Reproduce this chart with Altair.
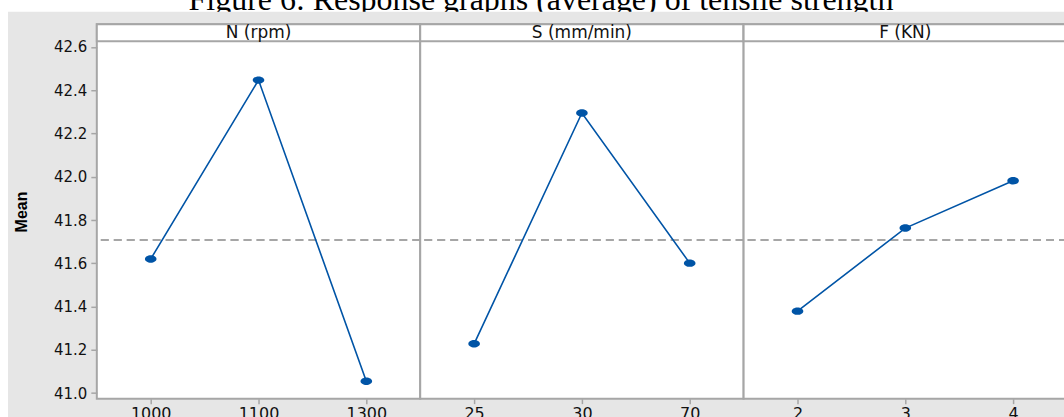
import altair as alt
import pandas as pd

# ---- values -------------------------------------------------------------
CAPTION = "Figure 6: Response graphs (average) of tensile strength"
FACTORS = ["N (rpm)", "S (mm/min)", "F (KN)"]

N_LEVELS = ["1000", "1100", "1300"]
N_MEANS = [41.620, 42.447, 41.055]
S_LEVELS = ["25", "30", "70"]
S_MEANS = [41.228, 42.295, 41.601]
F_LEVELS = ["2", "3", "4"]
F_MEANS = [41.379, 41.763, 41.982]

GRAND_MEAN = 41.708
Y_TICKS = [41.0, 41.2, 41.4, 41.6, 41.8, 42.0, 42.2, 42.4, 42.6]

# ---- geometry / style -----------------------------------------------------
PANEL_W = 324
PLOT_H = 358
STRIP_H = 17
CAP_H = 20
PX_PER_UNIT = 216.75
Y_LOW = 40.9746
Y_HIGH = 42.6263 + STRIP_H / PX_PER_UNIT   # room for the factor strip on top

BLUE = "#0054a6"
FRAME = "#a6a6a6"
BG = "#e6e6e6"
LABEL_FONT = "DejaVu Sans"

# ellipse-shaped marker (wider than tall)
ELLIPSE = "M-1,0A1,0.64,0,1,0,1,0A1,0.64,0,1,0,-1,0Z"

y_axis = alt.Axis(
    values=Y_TICKS, format=".1f", grid=False, domain=False,
    tickSize=6, tickWidth=1.5, tickColor=FRAME, labelPadding=4,
    labelFont=LABEL_FONT, labelFontSize=15, labelColor="#111111",
    titleFont="Liberation Sans", titleFontSize=16, titleFontWeight="bold",
    titleColor="#000000", titlePadding=24,
)


def panel(factor, levels, means, first):
    df = pd.DataFrame({"level": levels, "mean": means})
    x = alt.X(
        "level:N", sort=levels, title=None,
        scale=alt.Scale(type="point", padding=0.5),
        axis=alt.Axis(
            labelAngle=0, grid=False, domain=False, tickSize=5, tickWidth=1.5,
            tickColor=FRAME, labelPadding=2, labelFont=LABEL_FONT,
            labelFontSize=16, labelColor="#111111",
        ),
    )
    yscale = alt.Scale(domain=[Y_LOW, Y_HIGH], nice=False, zero=False)
    if first:
        y = alt.Y("mean:Q", scale=yscale, axis=y_axis, title="Mean")
        y_ref = alt.Y(datum=GRAND_MEAN, type="quantitative", scale=yscale,
                      axis=y_axis, title="Mean")
    else:
        y = alt.Y("mean:Q", scale=yscale, axis=None)
        y_ref = alt.Y(datum=GRAND_MEAN, type="quantitative", scale=yscale,
                      axis=None)

    # factor strip across the top of the panel
    label_data = alt.Data(values=[{"t": factor}])
    strip_box = (
        alt.Chart(label_data)
        .mark_rect(fill="white", stroke=FRAME, strokeWidth=2)
        .encode(x=alt.value(0), x2=alt.value(PANEL_W),
                y=alt.value(0), y2=alt.value(STRIP_H))
    )
    strip_text = (
        alt.Chart(label_data)
        .mark_text(font=LABEL_FONT, fontSize=17, color="#111111",
                   baseline="middle", align="center")
        .encode(text="t:N", x=alt.value(PANEL_W / 2),
                y=alt.value(STRIP_H / 2 + 0.5))
    )

    base = alt.Chart(df)
    ref = base.mark_rule(color="#9a9a9a", strokeWidth=1.2,
                         strokeDash=[8, 5]).encode(y=y_ref)
    line = base.mark_line(color=BLUE, strokeWidth=1.6).encode(x=x, y=y)
    pts = base.mark_point(shape=ELLIPSE, size=135, filled=True, color=BLUE,
                          opacity=1).encode(x=x, y=y)
    return alt.layer(ref, line, pts, strip_box, strip_text).properties(
        width=PANEL_W, height=PLOT_H + STRIP_H
    )


# caption row: the grey backdrop is drawn after the caption text and before
# every other cell, so it trims the caption and sits under the panels
caption_text = (
    alt.Chart(alt.Data(values=[{"t": CAPTION}]))
    .mark_text(font="Liberation Serif", fontSize=32, color="#000000",
               align="center", baseline="alphabetic")
    .encode(text="t:N", x=alt.value(445), y=alt.value(6))
)
backdrop = (
    alt.Chart(alt.Data(values=[{"a": 1}]))
    .mark_rect(color=BG)
    .encode(x=alt.value(-89), x2=alt.value(1000),
            y=alt.value(7.5), y2=alt.value(426))
)
caption = alt.layer(caption_text, backdrop).properties(
    width=3 * PANEL_W, height=CAP_H,
    view=alt.ViewBackground(fill="transparent", stroke="transparent"),
)

plots = alt.hconcat(
    panel(FACTORS[0], N_LEVELS, N_MEANS, True),
    panel(FACTORS[1], S_LEVELS, S_MEANS, False),
    panel(FACTORS[2], F_LEVELS, F_MEANS, False),
    spacing=0, bounds="flush",
)

chart = (
    alt.vconcat(caption, plots, spacing=0, bounds="flush")
    .properties(
        background="white",
        padding={"left": 7, "top": -17, "right": -32, "bottom": -13},
    )
    .configure_view(fill="white", stroke=FRAME, strokeWidth=2)
    .configure_axisLeft(titleFontSize=16, titleFont="Liberation Sans",
                        titleFontWeight="bold")
)

chart.save("out.html", embed_options={"renderer": "svg", "actions": False})
